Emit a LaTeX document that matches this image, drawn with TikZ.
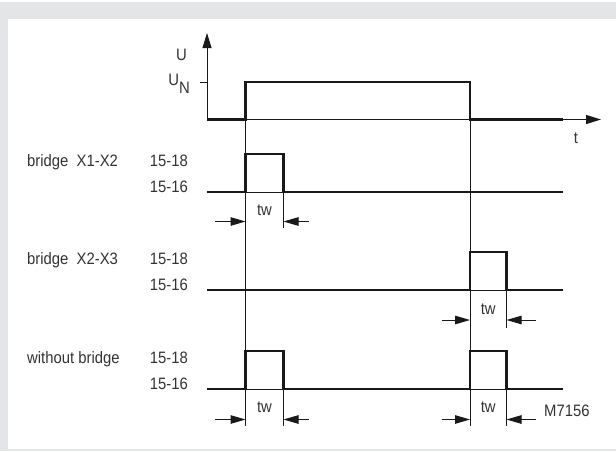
\documentclass[tikz,border=0pt]{standalone}
\usepackage{fontspec}
\setmainfont{Liberation Sans}[FakeStretch=0.9]
\usetikzlibrary{arrows.meta, positioning}
\definecolor{framegrey}{HTML}{E4E5E7}

\begin{document}
\begin{tikzpicture}
  [x=1pt, y=-1pt,
   signal/.style={line width=2.8pt, draw=black!90, line join=miter},
   guide/.style={line width=1pt, draw=black!90},
   axis/.style={guide, -{Triangle[length=15pt, width=9pt]}},
   measure/.style={guide, -{Triangle[length=15pt, width=8.5pt]}},
   txt/.style={inner sep=0pt, text=black!80, font=\fontsize{16.5}{18}\selectfont}]
  % frame
  \useasboundingbox (0,0) rectangle (616,451);
  \fill[framegrey] (0,2) rectangle (616,19);
  \fill[framegrey] (0,19) rectangle (8,451);
  \fill[framegrey] (8,449) rectangle (616,451);

  % supply voltage
  \coordinate (origin) at (207,119.5);
  \coordinate (ytip)   at (207,33);
  \coordinate (xtip)   at (601,119.5);
  \coordinate (tick)   at (200,82);
  \coordinate (on)     at (245.5,82);
  \coordinate (off)    at (470,82);
  \coordinate (uend)   at (563,119.5);
  \draw[axis]   (origin) -- (ytip);
  \draw[axis]   (origin) -- (xtip);
  \draw[guide]  (tick) -- (tick -| origin);
  \draw[signal] (origin) -- (on |- origin) -- (on) -- (off) -- (off |- origin) -- (uend);
  \node[txt, anchor=base east] (u)  at (187,60)  {U};
  \node[txt, anchor=base east] (un) at (190,85)  {U\raisebox{-8pt}{N}};
  \node[txt, anchor=base]      (t)  at (576,143) {t};

  % long guides
  \coordinate (onbot)  at (245.5,426);
  \coordinate (offbot) at (470,426);
  \draw[guide] (on) -- (onbot);
  \draw[guide] (off) -- (offbot);

  % bridge X1-X2
  \coordinate (a1)   at (207,192);
  \coordinate (a1up) at (245.5,154);
  \coordinate (a1dn) at (283.5,154);
  \coordinate (a1e)  at (563,192);
  \coordinate (a1g)  at (283.5,228);
  \draw[guide]  (a1up |- a1) -- (a1dn |- a1);
  \draw[guide]  (a1dn |- a1) -- (a1g);
  \draw[signal] (a1) -- (a1up |- a1) -- (a1up) -- (a1dn) -- (a1dn |- a1) -- (a1e);
  \coordinate (m1l) at (215,221.5);
  \coordinate (m1r) at (309,221.5);
  \draw[measure] (m1l) -- (m1l -| a1up);
  \draw[measure] (m1r) -- (m1r -| a1dn);
  \node[txt, anchor=base]      (tw1)   at (264.5,215) {tw};
  \node[txt, anchor=base west] (name1) at (27,166)    {bridge\ \ X1-X2};
  \node[txt, anchor=base east] (hi1)   at (188,166)   {15-18};
  \node[txt, anchor=base east] (lo1)   at (188,192)   {15-16};

  % bridge X2-X3
  \coordinate (a2)   at (207,290);
  \coordinate (a2up) at (470,252);
  \coordinate (a2dn) at (506.5,252);
  \coordinate (a2e)  at (563,290);
  \coordinate (a2g)  at (506.5,328);
  \draw[guide]  (a2up |- a2) -- (a2dn |- a2);
  \draw[guide]  (a2dn |- a2) -- (a2g);
  \draw[signal] (a2) -- (a2up |- a2) -- (a2up) -- (a2dn) -- (a2dn |- a2) -- (a2e);
  \coordinate (m2l) at (441.5,320);
  \coordinate (m2r) at (536,320);
  \draw[measure] (m2l) -- (m2l -| a2up);
  \draw[measure] (m2r) -- (m2r -| a2dn);
  \node[txt, anchor=base]      (tw2)   at (488.25,314) {tw};
  \node[txt, anchor=base west] (name2) at (27,264)     {bridge\ \ X2-X3};
  \node[txt, anchor=base east] (hi2)   at (188,264)    {15-18};
  \node[txt, anchor=base east] (lo2)   at (188,290)    {15-16};

  % without bridge
  \coordinate (a3)    at (207,389);
  \coordinate (a3up)  at (245.5,351);
  \coordinate (a3dn)  at (283.5,351);
  \coordinate (a3up2) at (470,351);
  \coordinate (a3dn2) at (506.5,351);
  \coordinate (a3e)   at (563,389);
  \coordinate (a3g)   at (283.5,426);
  \coordinate (a3g2)  at (506.5,426);
  \draw[guide]  (a3up |- a3) -- (a3dn |- a3);
  \draw[guide]  (a3up2 |- a3) -- (a3dn2 |- a3);
  \draw[guide]  (a3dn |- a3) -- (a3g);
  \draw[guide]  (a3dn2 |- a3) -- (a3g2);
  \draw[signal] (a3) -- (a3up |- a3) -- (a3up) -- (a3dn) -- (a3dn |- a3)
                -- (a3up2 |- a3) -- (a3up2) -- (a3dn2) -- (a3dn2 |- a3) -- (a3e);
  \coordinate (m3l)  at (215,419.5);
  \coordinate (m3r)  at (309,419.5);
  \coordinate (m3l2) at (441.5,419.5);
  \coordinate (m3r2) at (536,419.5);
  \draw[measure] (m3l) -- (m3l -| a3up);
  \draw[measure] (m3r) -- (m3r -| a3dn);
  \draw[measure] (m3l2) -- (m3l2 -| a3up2);
  \draw[measure] (m3r2) -- (m3r2 -| a3dn2);
  \node[txt, anchor=base]      (tw3)   at (264.5,412.5)  {tw};
  \node[txt, anchor=base]      (tw4)   at (488.25,412.5) {tw};
  \node[txt, anchor=base west] (name3) at (27,363)       {without bridge};
  \node[txt, anchor=base east] (hi3)   at (188,363)      {15-18};
  \node[txt, anchor=base east] (lo3)   at (188,389)      {15-16};
  \node[txt, anchor=base west] (code)  at (544,416)      {M7156};
\end{tikzpicture}
\end{document}
